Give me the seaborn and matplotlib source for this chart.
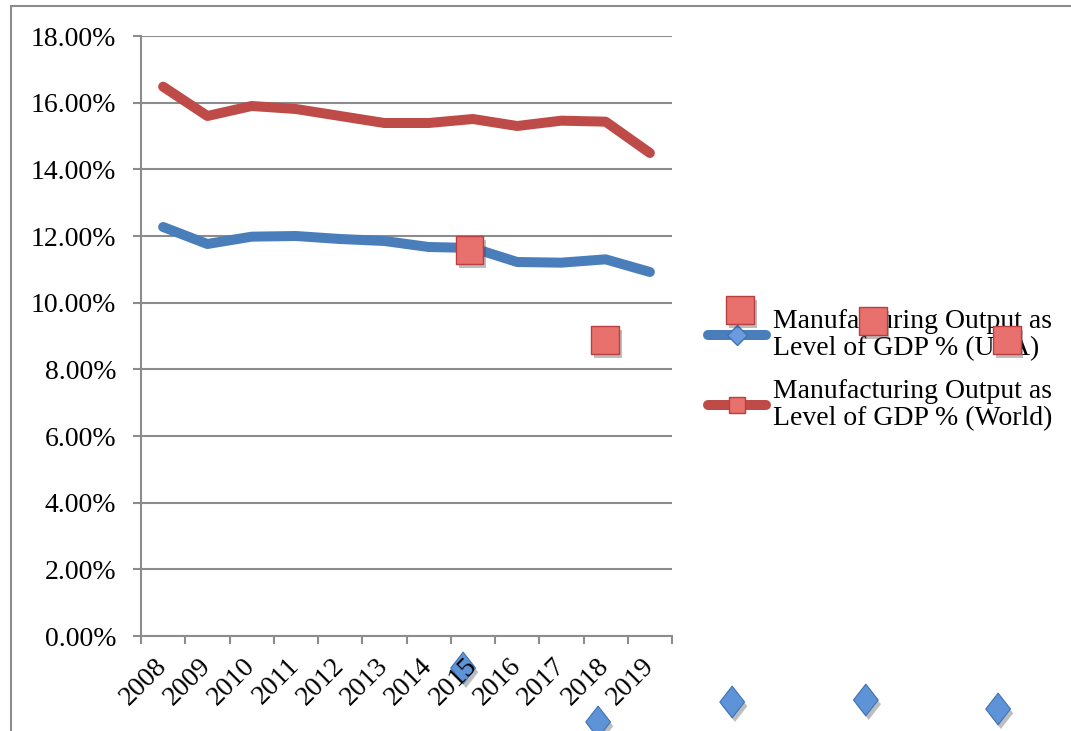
import numpy as np
import pandas as pd
import matplotlib
matplotlib.use('Agg')
import matplotlib.pyplot as plt
import matplotlib.patheffects as pe
from matplotlib.lines import Line2D
from matplotlib.path import Path
import seaborn as sns

# Data (values in %)
years = list(range(2008, 2020))
usa = [12.27, 11.76, 11.98, 12.00, 11.91, 11.85, 11.67, 11.64, 11.22, 11.20, 11.30, 10.92]
world = [16.48, 15.60, 15.90, 15.81, 15.60, 15.39, 15.39, 15.51, 15.30, 15.46, 15.43, 14.49]
label_usa = 'Manufacturing Output as\nLevel of GDP % (USA)'
label_world = 'Manufacturing Output as\nLevel of GDP % (World)'

# stray markers left over in the original picture
stray_sq_x = [2014.93, 2017.99, 2021.04, 2024.04, 2027.07]
stray_sq_y = [11.58, 8.88, 9.78, 9.45, 8.88]
stray_dm_x = [2014.78, 2017.83, 2020.86, 2023.88, 2026.87]
stray_dm_y = [-0.96, -2.58, -1.98, -1.92, -2.19]

blue = '#4A7EBB'
red = '#BE4B48'
grey = '#8C8C8C'

df = pd.DataFrame({
    'Year': years * 2,
    'Value': usa + world,
    'Series': [label_usa] * len(years) + [label_world] * len(years),
})

sns.set_style('white')
plt.rcParams['font.family'] = ['Liberation Serif', 'DejaVu Serif']
plt.rcParams['text.color'] = 'black'
plt.rcParams['xtick.labelcolor'] = 'black'
plt.rcParams['ytick.labelcolor'] = 'black'

fig = plt.figure(figsize=(10.71, 7.31), dpi=100)
ax = fig.add_axes([141 / 1071, 95 / 731, 531 / 1071, 600 / 731])

sns.lineplot(data=df, x='Year', y='Value', hue='Series',
             palette=[blue, red], linewidth=7.2, ax=ax, legend=False,
             solid_capstyle='round', solid_joinstyle='round', zorder=3)

shadow = [pe.SimplePatchShadow(offset=(2, -3), shadow_rgbFace='#444444', alpha=0.35), pe.Normal()]

diamond = Path([(0, 1), (0.78, 0), (0, -1), (-0.78, 0), (0, 1)],
               [Path.MOVETO, Path.LINETO, Path.LINETO, Path.LINETO, Path.CLOSEPOLY])
ax.scatter(stray_dm_x, stray_dm_y, marker=diamond, s=520, color='#5F93D8',
           edgecolor='#3F72B3', linewidth=0.8, clip_on=False, zorder=0.4,
           path_effects=shadow)
ax.scatter(stray_sq_x, stray_sq_y, marker='s', s=390, color='#E8706D',
           edgecolor='#B7413E', linewidth=1.0, clip_on=False, zorder=7,
           path_effects=shadow)

ax.set_xlim(2007.5, 2019.5)
ax.set_ylim(0, 18)
ax.set_yticks(np.arange(0, 19, 2))
ax.set_yticklabels([f'{v:.2f}%' for v in np.arange(0, 19, 2)])
ax.set_xticks(years)
ax.set_xticklabels([str(y) for y in years], rotation=45, ha='right', va='center',
                   rotation_mode='anchor')
ax.set_xticks(np.arange(2007.5, 2020, 1), minor=True)
ax.set_xlabel('')
ax.set_ylabel('')

ax.grid(axis='y', color=grey, linewidth=1.5)
ax.grid(axis='x', visible=False)
ax.set_axisbelow(True)
for s in ['top', 'right']:
    ax.spines[s].set_visible(False)
for s in ['left', 'bottom']:
    ax.spines[s].set_color(grey)
    ax.spines[s].set_linewidth(1.5)

ax.tick_params(axis='y', which='major', direction='out', length=6, width=1.5,
               color=grey, labelsize=20, pad=12, left=True)
ax.tick_params(axis='x', which='major', length=0, labelsize=20, pad=19)
ax.tick_params(axis='x', which='minor', direction='out', length=6, width=1.5,
               color=grey, bottom=True)

# legend with line + marker handles
handles = [
    Line2D([], [], color=blue, linewidth=7.2, solid_capstyle='round', marker='D',
           markersize=10, markerfacecolor='#6A9BDC', markeredgecolor='#3F72B3'),
    Line2D([], [], color=red, linewidth=7.2, solid_capstyle='round', marker='s',
           markersize=12, markerfacecolor='#E8706D', markeredgecolor='#B7413E'),
]
leg = ax.legend(handles, [label_usa, label_world], loc='center left',
                bbox_to_anchor=(708 / 1071, 1 - 370 / 731),
                bbox_transform=fig.transFigure, frameon=False, fontsize=20,
                handlelength=2.1, handletextpad=0.25, labelspacing=0.65,
                borderpad=0, borderaxespad=0)
for t in leg.get_texts():
    t.set_linespacing(1.12)
leg.set_zorder(5)

# outer chart border (top and left edges visible)
fig.add_artist(Line2D([11 / 1071, 1], [1 - 6 / 731, 1 - 6 / 731],
                      color=grey, linewidth=1.5, transform=fig.transFigure))
fig.add_artist(Line2D([11 / 1071, 11 / 1071], [0, 1 - 6 / 731],
                      color=grey, linewidth=1.5, transform=fig.transFigure))

fig.savefig('out.png', dpi=100)
